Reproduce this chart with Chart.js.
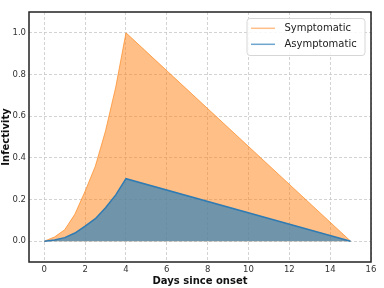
<!DOCTYPE html>
<html>
<head>
<meta charset="utf-8">
<script src="https://cdn.jsdelivr.net/npm/chart.js@4"></script>
<style>
  html, body { margin: 0; padding: 0; background: #fff; }
  #wrap { width: 384px; height: 288px; }
</style>
</head>
<body>
<div id="wrap"><canvas id="chart" width="384" height="288"></canvas></div>
<script>
// values
const days = [0, 0.5, 1, 1.5, 2, 2.5, 3, 3.5, 4, 15];
const symptomatic = [0, 0.02, 0.055, 0.13, 0.24, 0.36, 0.53, 0.74, 1.0, 0];
const asymptomatic = [0, 0.006, 0.017, 0.039, 0.072, 0.108, 0.16, 0.222, 0.3, 0];
const xTicks = [0, 2, 4, 6, 8, 10, 12, 14, 16];
const yTicks = [0, 0.2, 0.4, 0.6, 0.8, 1.0];
const seriesNames = ['Symptomatic', 'Asymptomatic'];

const toPoints = (ys) => days.map((d, i) => ({ x: d, y: ys[i] }));

const frameAndLegend = {
  id: 'frameAndLegend',
  afterDraw(chart) {
    const { ctx, chartArea: a } = chart;
    ctx.save();
    ctx.strokeStyle = '#222';
    ctx.lineWidth = 1.5;
    ctx.strokeRect(a.left, a.top, a.right - a.left, a.bottom - a.top);

    // legend box, top right inside the plot
    const bx = a.right - 124, by = a.top + 6.5, bw = 118, bh = 37;
    ctx.beginPath();
    ctx.roundRect(bx, by, bw, bh, 3);
    ctx.fillStyle = 'rgba(255,255,255,0.85)';
    ctx.fill();
    ctx.strokeStyle = '#d6d6d6';
    ctx.lineWidth = 1;
    ctx.stroke();

    const lineCols = ['rgba(255,127,14,0.5)', 'rgba(31,119,180,0.65)'];
    ctx.font = '10px "DejaVu Sans"';
    ctx.textBaseline = 'middle';
    seriesNames.forEach((name, i) => {
      const y = by + 9.8 + i * 16;
      ctx.beginPath();
      ctx.moveTo(bx + 4, y);
      ctx.lineTo(bx + 28, y);
      ctx.strokeStyle = lineCols[i];
      ctx.lineWidth = 1.5;
      ctx.stroke();
      ctx.fillStyle = '#222';
      ctx.fillText(name, bx + 37.5, y);
    });
    ctx.restore();
  }
};

new Chart(document.getElementById('chart'), {
  type: 'line',
  data: {
    datasets: [
      {
        label: seriesNames[0],
        data: toPoints(symptomatic),
        borderColor: 'rgba(255,140,40,0.75)',
        borderWidth: 1,
        backgroundColor: 'rgba(255,127,14,0.5)',
        fill: 'origin',
        pointRadius: 0,
        tension: 0,
        order: 2
      },
      {
        label: seriesNames[1],
        data: toPoints(asymptomatic),
        borderColor: '#2f7bb3',
        borderWidth: 1.5,
        backgroundColor: 'rgba(51,130,184,0.7)',
        fill: 'origin',
        pointRadius: 0,
        tension: 0,
        order: 1
      }
    ]
  },
  options: {
    responsive: false,
    animation: false,
    layout: { padding: { left: 0, right: 13, top: 12, bottom: 0 } },
    plugins: {
      legend: { display: false },
      tooltip: { enabled: false }
    },
    scales: {
      x: {
        type: 'linear',
        min: -0.75,
        max: 16,
        afterBuildTicks: (s) => { s.ticks = xTicks.map((v) => ({ value: v })); },
        afterFit: (s) => { s.height = 26; },
        grid: { color: '#c8c8c8', lineWidth: 0.8, drawTicks: false },
        border: { display: false, dash: [3, 2] },
        ticks: {
          padding: 3,
          color: '#333',
          font: { family: 'DejaVu Sans', size: 8.5 },
          maxRotation: 0,
          callback: (v) => String(v)
        },
        title: {
          display: true,
          text: 'Days since onset',
          color: '#111',
          padding: { top: 0, bottom: 1 },
          font: { family: 'DejaVu Sans', size: 10, weight: 'bold' }
        }
      },
      y: {
        type: 'linear',
        min: -0.1,
        max: 1.1,
        afterBuildTicks: (s) => { s.ticks = yTicks.map((v) => ({ value: v })); },
        afterFit: (s) => { s.width = 29; },
        grid: { color: '#c8c8c8', lineWidth: 0.8, drawTicks: false },
        border: { display: false, dash: [3, 2] },
        ticks: {
          padding: 3,
          color: '#333',
          font: { family: 'DejaVu Sans', size: 8.5 },
          callback: (v) => v.toFixed(1)
        },
        title: {
          display: true,
          text: 'Infectivity',
          color: '#111',
          padding: { top: 0, bottom: 0 },
          font: { family: 'DejaVu Sans', size: 10, weight: 'bold' }
        }
      }
    }
  },
  plugins: [frameAndLegend]
});
</script>
</body>
</html>
